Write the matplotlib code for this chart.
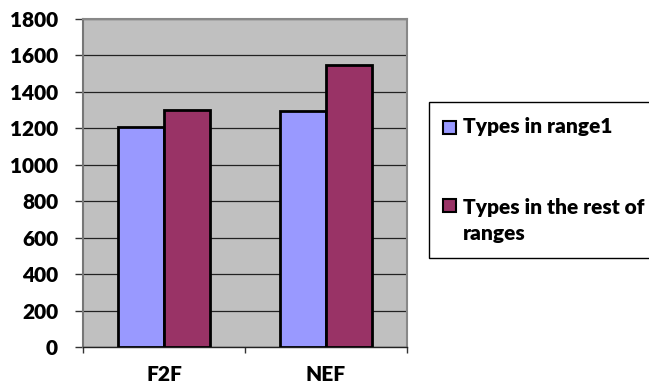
import numpy as np
import matplotlib
matplotlib.use("Agg")
import matplotlib.pyplot as plt
from matplotlib.patches import Rectangle

plt.rcParams['font.family'] = ['Lato', 'DejaVu Sans']
plt.rcParams['font.weight'] = 'heavy'

# 데이터
categories = ["F2F", "NEF"]
range1 = [1205, 1295]
rest = [1300, 1545]
series_names = ["Types in range1", "Types in the rest of\nranges"]
colors = ["#9999FF", "#993366"]
yticks = [0, 200, 400, 600, 800, 1000, 1200, 1400, 1600, 1800]

fig = plt.figure(figsize=(6.49, 3.89), dpi=100)
ax = fig.add_axes([83/649, 1-347/389, 324/649, 328/389])
ax.set_facecolor("#C0C0C0")

x = np.arange(len(categories))
w = 1/3.5   # gap width 150%
ax.bar(x - w/2, range1, w, color=colors[0], edgecolor="black", linewidth=2, zorder=3)
ax.bar(x + w/2, rest, w, color=colors[1], edgecolor="black", linewidth=2, zorder=3)

ax.set_xlim(-0.5, 1.5)
ax.set_ylim(0, 1800)
ax.set_yticks(yticks)
ax.yaxis.grid(True, color="#222222", linewidth=0.9, zorder=1)
ax.set_axisbelow(True)

# 축 눈금
ax.set_xticks([-0.5, 0.5, 1.5])
ax.set_xticklabels([])
ax.set_xticks(x, minor=True)
ax.set_xticklabels(categories, minor=True, fontsize=15, fontweight='heavy')
ax.tick_params(axis='x', which='minor', length=0, pad=13)
ax.tick_params(axis='x', which='major', length=4.5, width=1, color="#333333")
ax.tick_params(axis='y', length=6, width=1, color="#333333", pad=12, labelsize=15)
for s in ["top", "right"]:
    ax.spines[s].set_color("#888888")
    ax.spines[s].set_linewidth(1.5)
ax.spines["left"].set_color("#777777")
ax.spines["left"].set_linewidth(1.5)
ax.spines["bottom"].set_color("#222222")
ax.spines["bottom"].set_linewidth(1)

# 범례
fig.patches.append(Rectangle((429/649, 1-258/389), 230/649, 156/389,
                             transform=fig.transFigure, facecolor="white",
                             edgecolor="black", linewidth=1))
square_y = [128, 206]
baseline_y = [[133], [214, 240]]
for c, name, sy, bys in zip(colors, series_names, square_y, baseline_y):
    fig.patches.append(Rectangle((443/649, 1-(sy+6)/389), 13/649, 13/389,
                                 transform=fig.transFigure, facecolor=c,
                                 edgecolor="black", linewidth=1.5))
    for line, by in zip(name.split("\n"), bys):
        fig.text(463/649, 1-by/389, line, fontsize=15, fontweight='heavy',
                 va='baseline', ha='left')

plt.savefig("out.png", dpi=100)
